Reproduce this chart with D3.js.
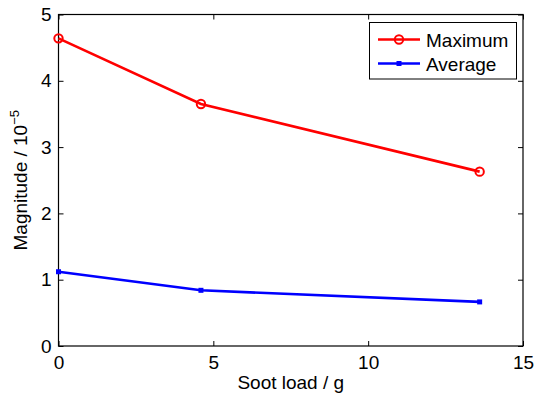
<!DOCTYPE html>
<html>
<head>
<meta charset="utf-8">
<script src="https://cdn.jsdelivr.net/npm/d3@7"></script>
<style>
  body { margin: 0; background: #fff; }
  text { font-family: "Liberation Sans", Arial, sans-serif; fill: #000; }
</style>
</head>
<body>
<svg id="chart" width="536" height="395"></svg>
<script>
const sootLoad = [0, 4.6, 13.6];
const maximum = [4.64, 3.65, 2.63];
const average = [1.12, 0.84, 0.665];
const xTicks = [0, 5, 10, 15];
const yTicks = [0, 1, 2, 3, 4, 5];
const seriesNames = ['Maximum', 'Average'];

const W = 536, H = 395;
const m = {left: 58.5, right: 13, top: 14.5, bottom: 49};
const svg = d3.select('#chart');
const font = '"Liberation Sans", Arial, sans-serif';

const x = d3.scaleLinear().domain([0, 15]).range([m.left, W - m.right]);
const y = d3.scaleLinear().domain([0, 5]).range([H - m.bottom, m.top]);

const tickLen = 5;
// bottom axis (ticks inward)
svg.append('g').attr('transform', 'translate(0,' + y(0) + ')')
  .call(d3.axisBottom(x).tickValues(xTicks).tickFormat(d3.format('d')).tickSizeInner(-tickLen).tickSizeOuter(0).tickPadding(tickLen + 5))
  .call(g => g.select('.domain').remove())
  .call(g => g.selectAll('text').style('font-size', '19px').style('font-family', font));
// top ticks
svg.append('g').attr('transform', 'translate(0,' + y(5) + ')')
  .call(d3.axisTop(x).tickValues(xTicks).tickSizeInner(-tickLen).tickSizeOuter(0).tickFormat(''))
  .call(g => g.select('.domain').remove());
// left axis
svg.append('g').attr('transform', 'translate(' + x(0) + ',0)')
  .call(d3.axisLeft(y).tickValues(yTicks).tickFormat(d3.format('d')).tickSizeInner(-tickLen).tickSizeOuter(0).tickPadding(tickLen + 2))
  .call(g => g.select('.domain').remove())
  .call(g => g.selectAll('text').style('font-size', '19px').style('font-family', font));
// right ticks
svg.append('g').attr('transform', 'translate(' + x(15) + ',0)')
  .call(d3.axisRight(y).tickValues(yTicks).tickSizeInner(-tickLen).tickSizeOuter(0).tickFormat(''))
  .call(g => g.select('.domain').remove());

// box
svg.append('rect')
  .attr('x', x(0)).attr('y', y(5))
  .attr('width', x(15) - x(0)).attr('height', y(0) - y(5))
  .attr('fill', 'none').attr('stroke', '#000').attr('stroke-width', 1.2);

const line = d3.line().x((d, i) => x(sootLoad[i])).y(d => y(d));

// Maximum
svg.append('path').datum(maximum).attr('d', line)
  .attr('fill', 'none').attr('stroke', '#ff0000').attr('stroke-width', 2.6);
svg.selectAll('circle.max').data(maximum).enter().append('circle')
  .attr('class', 'max')
  .attr('cx', (d, i) => x(sootLoad[i])).attr('cy', d => y(d)).attr('r', 4.2)
  .attr('fill', 'none').attr('stroke', '#ff0000').attr('stroke-width', 2);

// Average
svg.append('path').datum(average).attr('d', line)
  .attr('fill', 'none').attr('stroke', '#0000ff').attr('stroke-width', 2.6);
svg.selectAll('rect.avg').data(average).enter().append('rect')
  .attr('class', 'avg')
  .attr('x', (d, i) => x(sootLoad[i]) - 2.5).attr('y', d => y(d) - 2.5)
  .attr('width', 5).attr('height', 5).attr('fill', '#0000ff');

// legend
const lg = svg.append('g');
lg.append('rect').attr('x', 369.5).attr('y', 22.5).attr('width', 147).attr('height', 56.5)
  .attr('fill', '#fff').attr('stroke', '#000').attr('stroke-width', 1);
const colors = ['#ff0000', '#0000ff'];
seriesNames.forEach((name, i) => {
  const ly = 39.5 + i * 24;
  lg.append('line').attr('x1', 378).attr('x2', 420).attr('y1', ly).attr('y2', ly)
    .attr('stroke', colors[i]).attr('stroke-width', 2.6);
  if (i === 0) {
    lg.append('circle').attr('cx', 399).attr('cy', ly).attr('r', 4.2)
      .attr('fill', 'none').attr('stroke', colors[i]).attr('stroke-width', 2);
  } else {
    lg.append('rect').attr('x', 396.5).attr('y', ly - 2.5).attr('width', 5).attr('height', 5)
      .attr('fill', colors[i]);
  }
  lg.append('text').attr('x', 426).attr('y', ly + 7).style('font-size', '19px').text(name);
});

// axis labels
svg.append('text').attr('x', (x(0) + x(15)) / 2).attr('y', 389)
  .attr('text-anchor', 'middle').style('font-size', '19px').text('Soot load / g');
const yl = svg.append('text')
  .attr('transform', 'translate(27,' + ((y(0) + y(5)) / 2) + ') rotate(-90)')
  .attr('text-anchor', 'middle').style('font-size', '19px');
yl.append('tspan').text('Magnitude / 10');
yl.append('tspan').attr('dy', -8).style('font-size', '13px').text('\u22125');
</script>
</body>
</html>
